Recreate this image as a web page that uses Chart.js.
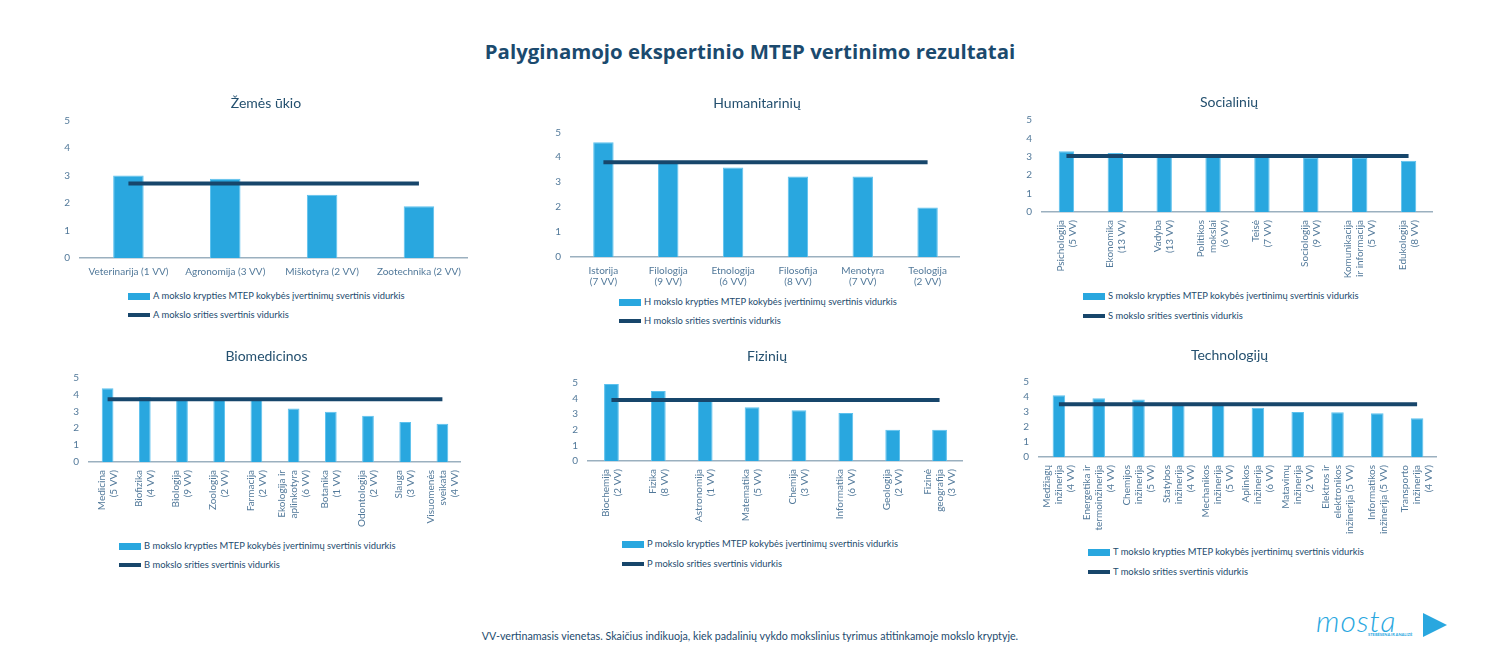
<!DOCTYPE html>
<html lang="lt">
<head>
<meta charset="utf-8">
<title>Palyginamojo ekspertinio MTEP vertinimo rezultatai</title>
<script src="https://cdn.jsdelivr.net/npm/chart.js@4.4.1/dist/chart.umd.min.js"></script>
<style>
  body { margin: 0; background: #fff; font-family: Lato, "Open Sans", sans-serif; }
  #page { position: relative; width: 1500px; height: 672px; overflow: hidden; }
  #title { position: absolute; left: 0; top: 39px; width: 1500px; text-align: center;
           font: bold 20.4px/24px "Open Sans", sans-serif; color: #1b4a6e; }
  canvas { position: absolute; }
  .legend { position: absolute; font: 9.4px/12px Lato, sans-serif; color: #1d4b6e; }
  .legend .row { position: absolute; left: 0; white-space: nowrap; height: 12px; }
  .legend .sw { position: absolute; left: 0; width: 22px; }
  .legend .txt { position: absolute; left: 25px; top: 0; }
  #footer { position: absolute; left: 0; top: 630px; width: 1500px; text-align: center;
            font: 10.7px/12px Lato, sans-serif; color: #1d4b6e; }
  #logo { position: absolute; left: 1316px; top: 604px; width: 140px; height: 40px; }
  #logo .word { position: absolute; left: 0; top: 0; font: italic 300 30px/32px Lato, sans-serif;
                color: #29a7df; letter-spacing: 1px; }
  #logo .sub { position: absolute; left: 52px; top: 28px; font: bold 4px/5px Lato, sans-serif; color: #29a7df; }
  #logo .tri { position: absolute; left: 107px; top: 9px; width: 0; height: 0;
               border-top: 12px solid transparent; border-bottom: 12px solid transparent;
               border-left: 24px solid #29a7df; }
</style>
</head>
<body>
<div id="page">
  <div id="title">Palyginamojo ekspertinio MTEP vertinimo rezultatai</div>
  <div id="footer">VV-vertinamasis vienetas. Skaičius indikuoja, kiek padalinių vykdo mokslinius tyrimus atitinkamoje mokslo kryptyje.</div>
  <div id="logo"><span class="word">mosta</span><span class="sub">STEBĖSENA IR ANALIZĖ</span><span class="tri"></span></div>
</div>
<script>
// ---- data ----
const zemesLabels = ['Veterinarija (1 VV)', 'Agronomija (3 VV)', 'Miškotyra (2 VV)', 'Zootechnika (2 VV)'];
const zemesValues = [3.0, 2.88, 2.3, 1.88];
const zemesAvg = 2.71;

const humLabels = [['Istorija', '(7 VV)'], ['Filologija', '(9 VV)'], ['Etnologija', '(6 VV)'],
                   ['Filosofija', '(8 VV)'], ['Menotyra', '(7 VV)'], ['Teologija', '(2 VV)']];
const humValues = [4.6, 3.78, 3.59, 3.23, 3.23, 1.98];
const humAvg = 3.8;

const socLabels = [['Psichologija', '(5 VV)'], ['Ekonomika', '(13 VV)'], ['Vadyba', '(13 VV)'],
                   ['Politikos', 'mokslai', '(6 VV)'], ['Teisė', '(7 VV)'], ['Sociologija', '(9 VV)'],
                   ['Komunikacija', 'ir informacija', '(5 VV)'], ['Edukologija', '(8 VV)']];
const socValues = [3.3, 3.2, 3.05, 3.0, 3.0, 2.93, 2.93, 2.79];
const socAvg = 3.04;

const bioLabels = [['Medicina', '(5 VV)'], ['Biofizika', '(4 VV)'], ['Biologija', '(9 VV)'],
                   ['Zoologija', '(2 VV)'], ['Farmacija', '(2 VV)'], ['Ekologija ir', 'aplinkotyra', '(6 VV)'],
                   ['Botanika', '(1 VV)'], ['Odontologija', '(2 VV)'], ['Slauga', '(3 VV)'],
                   ['Visuomenės', 'sveikata', '(4 VV)']];
const bioValues = [4.37, 3.85, 3.72, 3.7, 3.7, 3.18, 2.98, 2.75, 2.37, 2.27];
const bioAvg = 3.72;

const fizLabels = [['Biochemija', '(2 VV)'], ['Fizika', '(8 VV)'], ['Astronomija', '(1 VV)'],
                   ['Matematika', '(5 VV)'], ['Chemija', '(3 VV)'], ['Informatika', '(6 VV)'],
                   ['Geologija', '(2 VV)'], ['Fizinė', 'geografija', '(3 VV)']];
const fizValues = [4.92, 4.47, 4.0, 3.43, 3.24, 3.07, 2.0, 2.0];
const fizAvg = 3.9;

const techLabels = [['Medžiagų', 'inžinerija', '(4 VV)'], ['Energetika ir', 'termoinžinerija', '(4 VV)'],
                    ['Chemijos', 'inžinerija', '(5 VV)'], ['Statybos', 'inžinerija', '(4 VV)'],
                    ['Mechanikos', 'inžinerija', '(5 VV)'], ['Aplinkos', 'inžinerija', '(6 VV)'],
                    ['Matavimų', 'inžinerija', '(2 VV)'], ['Elektros ir', 'elektronikos', 'inžinerija (5 VV)'],
                    ['Informatikos', 'inžinerija (5 VV)'], ['Transporto', 'inžinerija', '(4 VV)']];
const techValues = [4.12, 3.92, 3.83, 3.52, 3.5, 3.29, 3.0, 2.99, 2.92, 2.59];
const techAvg = 3.52;

// ---- styles ----
const BAR = '#29a7df';
const BAR_EDGE = '#5cc1ee';
const LINE = '#17466b';
const TICK = '#52799a';
const TEXT = '#24506f';
const AXIS = '#9bb0bf';
const FONT = 'Lato, sans-serif';
const Y_W = 17;

// vertical category labels, each line centred on the tick
const rotatedLabels = {
    id: 'rotatedLabels',
    afterDraw(chart, args, opts) {
        if (!opts.on) return;
        const sx = chart.scales.x;
        const ctx = chart.ctx;
        ctx.save();
        ctx.font = '10px ' + FONT;
        ctx.fillStyle = TICK;
        ctx.textAlign = 'right';
        ctx.textBaseline = 'middle';
        chart.data.labels.forEach((lines, i) => {
            ctx.save();
            ctx.translate(sx.getPixelForTick(i), sx.top + opts.pad);
            ctx.rotate(-Math.PI / 2);
            lines.forEach((t, j) => ctx.fillText(t, 0, (j - (lines.length - 1) / 2) * 12));
            ctx.restore();
        });
        ctx.restore();
    }
};

function panel(p) {
    const page = document.getElementById('page');
    const left = Math.round(p.cl - Y_W);
    const top = Math.round(p.titleY - 14);
    const width = Math.round(p.cr - left);
    const height = Math.round(p.cb + p.xH - top);
    const canvas = document.createElement('canvas');
    canvas.width = width;
    canvas.height = height;
    canvas.style.left = left + 'px';
    canvas.style.top = top + 'px';
    page.appendChild(canvas);

    new Chart(canvas.getContext('2d'), {
        type: 'bar',
        data: {
            labels: p.labels,
            datasets: [
                {
                    type: 'line',
                    label: p.code + ' mokslo srities svertinis vidurkis',
                    data: p.labels.map(() => p.avg),
                    borderColor: LINE,
                    borderWidth: 4,
                    borderCapStyle: 'butt',
                    pointRadius: 0,
                    fill: false,
                    order: 0
                },
                {
                    label: p.code + ' mokslo krypties MTEP kokybės įvertinimų svertinis vidurkis',
                    data: p.values,
                    backgroundColor: BAR,
                    borderColor: BAR_EDGE,
                    borderWidth: 1,
                    barPercentage: 0.315,
                    categoryPercentage: 1,
                    order: 1
                }
            ]
        },
        options: {
            responsive: false,
            animation: false,
            devicePixelRatio: 1,
            layout: { padding: 0 },
            plugins: {
                legend: { display: false },
                tooltip: { enabled: false },
                title: {
                    display: true,
                    text: p.title,
                    color: TEXT,
                    font: { family: FONT, size: 14, weight: 'normal', lineHeight: 1.2 },
                    padding: { top: p.titleY - 8.4 - top, bottom: p.ct - p.titleY - 8.4 }
                },
                rotatedLabels: { on: p.rotated, pad: 8 }
            },
            scales: {
                x: {
                    grid: { display: false, drawTicks: false },
                    border: { display: true, color: AXIS, width: 1.5 },
                    ticks: {
                        display: !p.rotated,
                        autoSkip: false,
                        minRotation: 0,
                        maxRotation: 0,
                        padding: 8,
                        color: TICK,
                        font: { family: FONT, size: 10, lineHeight: 1.1 }
                    },
                    afterFit: (s) => { s.height = p.xH; }
                },
                y: {
                    min: 0,
                    max: 5,
                    grid: { display: false, drawTicks: false },
                    border: { display: false },
                    ticks: { stepSize: 1, autoSkip: false, padding: 10, color: TICK, font: { family: FONT, size: 10 } },
                    afterFit: (s) => { s.width = Y_W; }
                }
            }
        },
        plugins: [rotatedLabels]
    });

    // legend, stacked rows
    const lg = document.createElement('div');
    lg.className = 'legend';
    lg.style.left = p.legX + 'px';
    lg.style.top = '0px';
    const rows = [
        { y: p.legY[0], h: 7, c: BAR, t: p.code + ' mokslo krypties MTEP kokybės įvertinimų svertinis vidurkis' },
        { y: p.legY[1], h: 4, c: LINE, t: p.code + ' mokslo srities svertinis vidurkis' }
    ];
    rows.forEach(r => {
        const row = document.createElement('div');
        row.className = 'row';
        row.style.top = (r.y - 6) + 'px';
        row.innerHTML = '<span class="sw" style="top:' + (6 - r.h / 2) + 'px;height:' + r.h +
            'px;background:' + r.c + '"></span><span class="txt">' + r.t + '</span>';
        lg.appendChild(row);
    });
    page.appendChild(lg);
}

panel({ title: 'Žemės ūkio', code: 'A', labels: zemesLabels, values: zemesValues, avg: zemesAvg,
        cl: 80, cr: 469, ct: 120.5, cb: 258.3, titleY: 103, xH: 30, rotated: false,
        legX: 128, legY: [296, 315] });
panel({ title: 'Humanitarinių', code: 'H', labels: humLabels, values: humValues, avg: humAvg,
        cl: 571, cr: 960, ct: 132.3, cb: 256.7, titleY: 103.5, xH: 36, rotated: false,
        legX: 619, legY: [302, 321] });
panel({ title: 'Socialinių', code: 'S', labels: socLabels, values: socValues, avg: socAvg,
        cl: 1042, cr: 1433, ct: 120, cb: 211.7, titleY: 102, xH: 75, rotated: true,
        legX: 1083, legY: [296, 316] });
panel({ title: 'Biomedicinos', code: 'B', labels: bioLabels, values: bioValues, avg: bioAvg,
        cl: 88.5, cr: 460.5, ct: 377.7, cb: 462, titleY: 356, xH: 75, rotated: true,
        legX: 119, legY: [546, 565] });
panel({ title: 'Fizinių', code: 'P', labels: fizLabels, values: fizValues, avg: fizAvg,
        cl: 588, cr: 963, ct: 382.7, cb: 461, titleY: 356, xH: 75, rotated: true,
        legX: 622, legY: [544, 564] });
panel({ title: 'Technologijų', code: 'T', labels: techLabels, values: techValues, avg: techAvg,
        cl: 1039, cr: 1436.5, ct: 382, cb: 457.3, titleY: 355, xH: 85, rotated: true,
        legX: 1088, legY: [552, 572] });
</script>
</body>
</html>
